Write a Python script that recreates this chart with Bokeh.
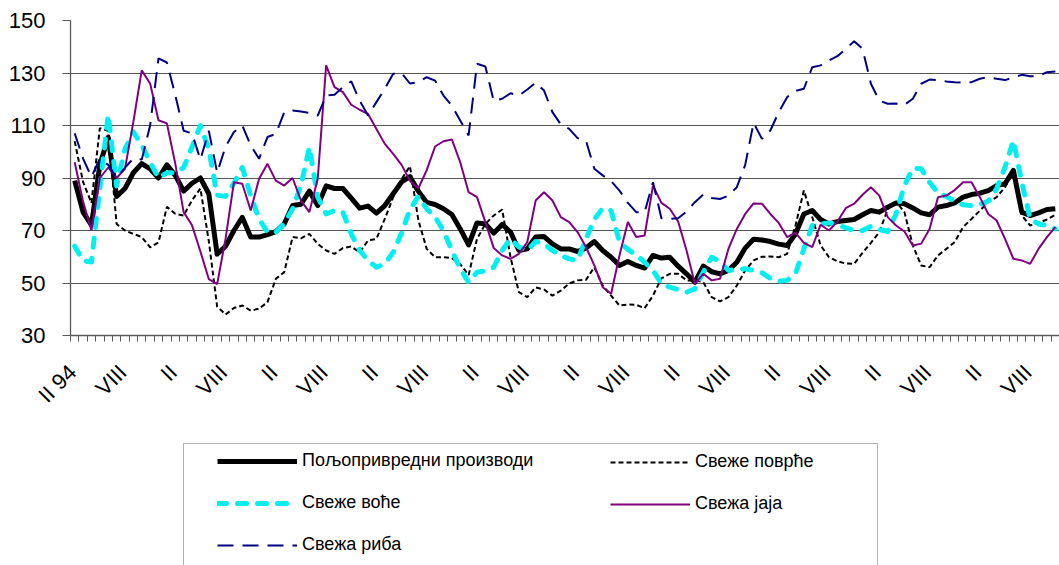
import math
from bokeh.plotting import figure
from bokeh.layouts import column
from bokeh.models import Range1d, FixedTicker, Legend, LegendItem, ColumnDataSource, BoxAnnotation
from bokeh.embed import file_html
from bokeh.resources import INLINE

# x-axis tick labels (every 6 months, starting February 1994)
tick_labels = ["II 94"] + ["VIII", "II"] * 9 + ["VIII"]

series_names = ["Пољопривредни производи", "Свеже поврће", "Свеже воће", "Свежа јаја", "Свежа риба"]

agri = [
    89, 77, 72, 95, 105.5, 83, 86, 92, 95.5, 93.5,
    90, 95, 91, 85, 88, 90, 84, 61, 64, 70,
    75, 67.5, 67.5, 68.4, 69.6, 72.5, 79.5, 80, 85, 79.5,
    87, 86, 86, 82.3, 78.5, 79.3, 76.6, 79.5, 84, 88.5,
    90.5, 85, 80.7, 79.9, 78.3, 76.1, 70.6, 64.5, 72.9, 72.5,
    69, 72.3, 69.4, 62.4, 63, 67.5, 67.7, 64.9, 63, 63,
    62, 63.3, 65.8, 62.4, 59.8, 56.7, 58.2, 56.7, 55.7, 60.5,
    59.5, 59.8, 56.4, 53.5, 50.3, 56.4, 54.3, 53.5, 54.8, 57.9,
    63.3, 66.7, 66.4, 65.8, 64.8, 64.3, 68.7, 76.3, 77.6, 74.2,
    72.5, 73.4, 73.8, 74.2, 76, 77.6, 77, 78.9, 80.5, 80.2,
    78.6, 76.7, 76, 78.9, 79.5, 80.5, 82.7, 83.7, 84.2, 85.2,
    87.1, 87.8, 92.9, 77, 75.7, 76.7, 78, 78.3,
]

veg = [
    104, 88.5, 80.5, 109, 108, 72.5, 70, 68.7, 67.5, 63.6,
    65.5, 79, 76.4, 75.7, 81.5, 86, 66, 41, 38, 40.5,
    41.4, 39.5, 40.2, 42.7, 51.6, 54.1, 67.5, 67, 68.7, 64.9,
    62.4, 61.1, 63.3, 63.9, 61.7, 66.2, 66.8, 74.4, 82.7, 89.5,
    94.5, 74, 63, 59.8, 59.8, 59.5, 57.2, 53, 66.8, 72.5,
    75.7, 78, 59.8, 46.5, 44.6, 48.3, 47.5, 45.2, 47.1, 49.8,
    51, 51.2, 56, 49, 45.2, 41.4, 41.8, 41.7, 40.4, 45.2,
    51.8, 53.5, 53.5, 51, 51, 50.3, 44.6, 43, 44.6, 49,
    54.8, 58.6, 60, 60.1, 59.8, 61.1, 71.9, 85.2, 75.1, 64.3,
    59.8, 58.3, 57.4, 57.3, 61.5, 65.3, 69.4, 78, 81, 77,
    64.3, 56.7, 56, 60.5, 63, 65.6, 71.3, 74.4, 77.6, 80.8,
    82.7, 86.5, 92.2, 75.7, 71.9, 72.9, 74.2, 76,
]

fruit = [
    64, 58.5, 58, 86, 114, 87, 101, 107.6, 102.5, 96,
    90, 92, 92, 94, 101.8, 110, 101, 83.4, 83, 88,
    94, 83.3, 74.4, 69.4, 69.4, 72.5, 78.3, 87.1, 101.7, 82.7,
    76.3, 77.6, 77, 68.7, 62.4, 58.6, 56, 57.3, 61.7, 69,
    78, 83, 78.3, 75.1, 70, 62.4, 55.4, 50.3, 54.1, 54.6,
    56, 62.4, 66.8, 63.7, 62.4, 65.8, 64.9, 62.4, 60.5, 59.2,
    58.6, 66.8, 74.2, 78.5, 77.6, 65.6, 62.8, 60.7, 57.9, 54.8,
    49.7, 48.4, 47.5, 46.5, 47.8, 54.1, 59.8, 58.2, 54.8, 55.1,
    55.4, 54.8, 53.9, 51.8, 50.7, 51, 53.5, 63, 71.9, 72.5,
    72.9, 72.2, 71, 70, 70, 71.6, 70.4, 69.6, 76.3, 87.1,
    93.7, 93.5, 88.4, 84.3, 83, 81.2, 79.8, 79.5, 79.9, 81.2,
    85.9, 94.1, 104.3, 88.4, 74.4, 72.5, 71.9, 70.6,
]

eggs = [
    96, 81, 70, 90, 94, 90, 93.5, 111.4, 131, 126,
    112, 110.8, 95.5, 77, 72, 62, 51.5, 49.6, 66.8, 88.4,
    87.8, 77.6, 89.7, 95.4, 89, 87.1, 90, 81.4, 77, 89.7,
    132.9, 124.6, 122.7, 117.9, 116, 114.4, 108.7, 103, 99.2, 95,
    89, 86, 93, 102, 104, 104.7, 96, 84.6, 82.7, 73.2,
    63.3, 60.5, 59.2, 61.1, 65.6, 81.4, 84.6, 81.4, 75.1, 73.2,
    69.4, 63.7, 56.7, 48.4, 45.9, 60.5, 73.2, 67.5, 68.1, 87.1,
    80.5, 78.3, 73.4, 62.4, 49.7, 53.5, 51, 51.6, 63, 70.6,
    76.3, 80.3, 80.2, 76.3, 72.9, 67.5, 69.2, 65.3, 63.7, 72.2,
    70, 73.4, 78.5, 80.2, 83.6, 86.5, 83.3, 75.1, 71.9, 69.6,
    64.3, 65, 70.6, 82.7, 83.3, 85.4, 88.4, 88.4, 82.7, 76.3,
    73.8, 66.8, 59.2, 58.6, 57.3, 63, 67.5, 71.3,
]

fish = [
    107, 97.4, 90.4, 97.4, 95, 90, 94, 97.4, 97, 110,
    135.6, 134, 121.6, 108, 107, 97, 108, 92, 102, 107.5,
    110, 102.4, 97.3, 105.6, 106.8, 115, 115.7, 115.3, 114.8, 113.8,
    121.4, 121.7, 124.6, 126.8, 119.5, 113.8, 118.9, 124, 129.7, 130,
    126, 126.5, 128.4, 127.1, 121.4, 117.6, 111.9, 106.2, 133.5, 132.5,
    119.3, 120.2, 122.3, 121.4, 123.7, 126.3, 123.3, 115.1, 110.4, 108.7,
    105.2, 104.3, 93.5, 91, 88.8, 85.2, 80.5, 77, 77, 88.4,
    74.7, 74.4, 74.7, 77.2, 80.8, 83.7, 82.4, 82, 83.3, 86.5,
    95, 111, 104.9, 108.1, 115.1, 120.8, 123.2, 124, 132.2, 132.9,
    134.8, 136.4, 139.2, 142.1, 139.2, 125.9, 119.5, 118.3, 118.4, 117.9,
    120.2, 125.9, 127.5, 127.3, 126.8, 126.5, 126.3, 126.5, 127.8, 128.4,
    127.8, 127.3, 128.3, 129.3, 128.8, 128.8, 130.3, 130.6,
]

n = len(agri)
months = list(range(n))
LABEL_SHIFT = -0.25  # where the end of each rotated label sits relative to its month
tick_pos = [k + LABEL_SHIFT for k in range(0, n, 6)][:len(tick_labels)]

src = ColumnDataSource(dict(x=months, agri=agri, veg=veg, fruit=fruit, eggs=eggs, fish=fish))

FONT = "Liberation Sans"
AXIS_COLOR = "#5a5a5a"
W = 1059
H_MAIN = 425
H_LEG = 565 - H_MAIN
FRAME_L, FRAME_T, FRAME_B = 70, 20, 335

styles = {
    "agri": dict(line_color="black", line_width=5, line_join="round"),
    "veg": dict(line_color="black", line_width=2, line_dash="5 3"),
    "fruit": dict(line_color="#00f0f0", line_width=5, line_dash="9 11", line_cap="round", line_join="round"),
    "eggs": dict(line_color="#800080", line_width=2),
    "fish": dict(line_color="#000080", line_width=2, line_dash="16 9"),
}
keys = ["agri", "veg", "fruit", "eggs", "fish"]

# ---------------- main chart ----------------
p = figure(width=W, height=H_MAIN, output_backend="svg", toolbar_location=None,
           x_range=Range1d(-0.5, n - 0.5), y_range=Range1d(30, 150),
           min_border_left=FRAME_L, min_border_right=0, min_border_top=FRAME_T,
           min_border_bottom=H_MAIN - FRAME_B)
p.outline_line_color = None
p.background_fill_color = "white"
p.border_fill_color = "white"

p.xgrid.visible = False
p.ygrid.ticker = FixedTicker(ticks=[50, 70, 90, 110, 130])
p.ygrid.grid_line_color = "#555555"
p.ygrid.grid_line_width = 1.2

xa = p.xaxis[0]
xa.ticker = FixedTicker(ticks=tick_pos, minor_ticks=[k - 0.5 for k in range(n + 1)])
xa.major_label_overrides = {t: lab for t, lab in zip(tick_pos, tick_labels)}
xa.major_tick_out = 0
xa.major_tick_in = 0
xa.minor_tick_out = 6
xa.minor_tick_in = 0
xa.minor_tick_line_color = AXIS_COLOR
xa.axis_line_color = AXIS_COLOR
xa.axis_line_width = 1.3
xa.major_label_orientation = math.pi / 4
xa.major_label_standoff = 27
xa.major_label_text_font = FONT
xa.major_label_text_font_size = "22px"
xa.major_label_text_color = "black"

ya = p.yaxis[0]
ya.ticker = FixedTicker(ticks=[30, 50, 70, 90, 110, 130, 150])
ya.major_tick_out = 8
ya.major_tick_in = 0
ya.minor_tick_out = 0
ya.minor_tick_in = 0
ya.major_tick_line_color = AXIS_COLOR
ya.axis_line_color = AXIS_COLOR
ya.axis_line_width = 1.3
ya.major_label_standoff = 17
ya.major_label_text_font = FONT
ya.major_label_text_font_size = "22px"
ya.major_label_text_color = "black"

for k in keys:
    p.line("x", k, source=src, **styles[k])

# ---------------- legend panel (page pixels used as coordinates) ----------------
pl = figure(width=W, height=H_LEG, output_backend="svg", toolbar_location=None,
            x_range=Range1d(FRAME_L, W), y_range=Range1d(H_LEG, 0),
            x_axis_type=None, y_axis_type=None,
            min_border_left=FRAME_L, min_border_right=0, min_border_top=0, min_border_bottom=0)
pl.outline_line_color = None
pl.background_fill_color = "white"
pl.border_fill_color = "white"

# legend frame (its bottom edge lies below the visible page, as in the reference)
pl.add_layout(BoxAnnotation(left=183, right=877, top=443 - H_MAIN, bottom=H_LEG + 60,
                            fill_color=None, line_color="black", line_width=1))

nan = float("nan")
leg_r = {k: pl.line(x=[nan], y=[nan], **styles[k]) for k in keys}

ITEM_H = 20
SPACING = 21
ROW1_TOP = 463 - H_MAIN - ITEM_H // 2
common = dict(padding=0, spacing=SPACING, glyph_width=80, glyph_height=ITEM_H, label_height=ITEM_H,
              label_standoff=5, label_text_font=FONT, label_text_font_size="18px",
              label_text_color="black", margin=0, label_width=20,
              border_line_alpha=0, background_fill_alpha=0)

colA = ["agri", "fruit", "fish"]
colB = ["veg", "eggs"]
hA = len(colA) * ITEM_H + (len(colA) - 1) * SPACING
hB = len(colB) * ITEM_H + (len(colB) - 1) * SPACING

legA = Legend(items=[LegendItem(label=series_names[keys.index(k)], renderers=[leg_r[k]]) for k in colA],
              location=(217 - FRAME_L, H_LEG - ROW1_TOP - hA), **common)
legB = Legend(items=[LegendItem(label=series_names[keys.index(k)], renderers=[leg_r[k]]) for k in colB],
              location=(610 - FRAME_L, H_LEG - ROW1_TOP - hB), **common)
pl.add_layout(legA)
pl.add_layout(legB)

layout = column(p, pl, spacing=0)
open("out.html", "w").write(file_html(layout, INLINE))
